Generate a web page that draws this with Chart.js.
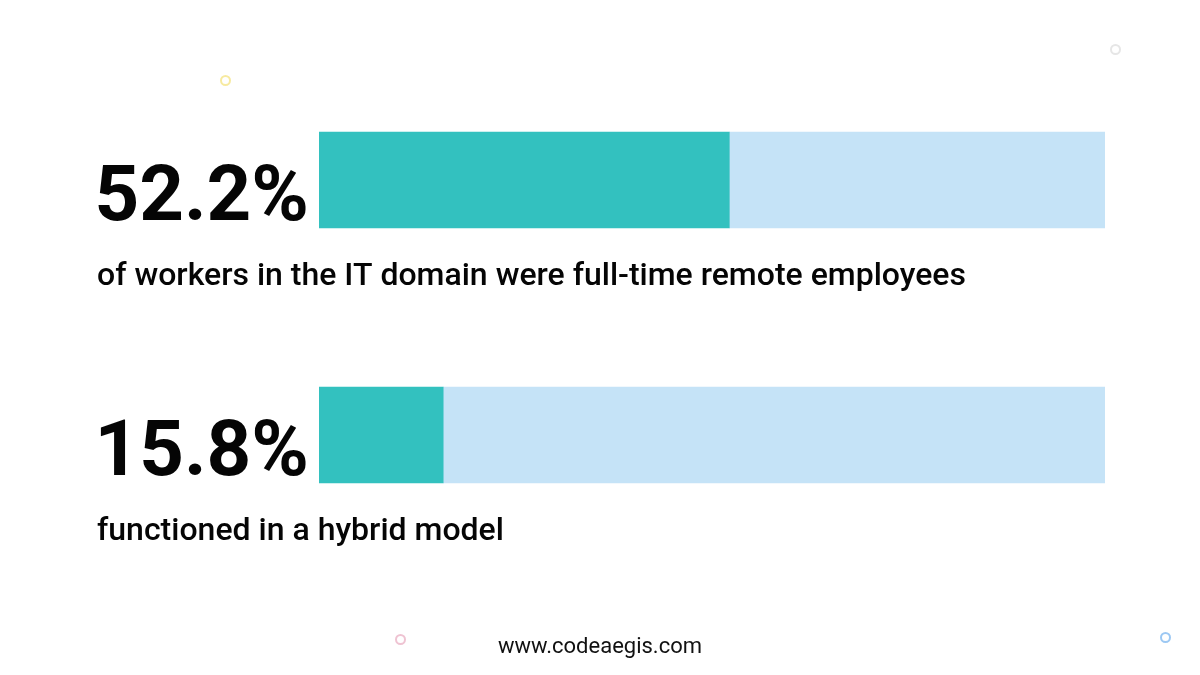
<!DOCTYPE html>
<html>
<head>
<meta charset="utf-8">
<script src="https://cdn.jsdelivr.net/npm/chart.js@4"></script>
<style>
  html, body { margin: 0; padding: 0; background: #fff; }
  #wrap { position: relative; width: 1200px; height: 675px; overflow: hidden; }
  .dot { position: absolute; width: 7px; height: 7px; border-radius: 50%; border: 2.5px solid; }
  #footer { position: absolute; left: 0; width: 1200px; top: 633px; text-align: center;
            font: 400 22px Roboto, sans-serif; color: #111; }
</style>
</head>
<body>
<div id="wrap">
  <canvas id="grafico" width="1200" height="675"></canvas>
  <div class="dot" style="left:220px;top:75px;border-color:#f7eaa0"></div>
  <div class="dot" style="left:1110px;top:44px;border-color:#e6e6e6"></div>
  <div class="dot" style="left:395px;top:634px;border-color:#efc3d2"></div>
  <div class="dot" style="left:1160px;top:632px;border-color:#9cc8f3"></div>
  <div id="footer">www.codeaegis.com</div>
</div>
<script>
// Datos del gráfico
const categorias = ['of workers in the IT domain were full-time remote employees', 'functioned in a hybrid model'];
const porcentajes = [52.2, 15.8];
const resto = porcentajes.map(v => 100 - v);

// Plugin para dibujar el porcentaje grande y la leyenda bajo cada barra
const textos = {
  id: 'textos',
  afterDatasetsDraw(chart) {
    const c = chart.ctx;
    const meta = chart.getDatasetMeta(0);
    c.save();
    c.fillStyle = '#050505';
    meta.data.forEach((bar, i) => {
      const bottom = bar.y + bar.height / 2;
      c.font = '700 78px Roboto';
      c.textAlign = 'right';
      c.textBaseline = 'alphabetic';
      c.fillText(porcentajes[i].toFixed(1) + '%', chart.chartArea.left - 10, bottom - 8);
      c.font = '500 32px Roboto';
      c.textAlign = 'left';
      c.fillText(categorias[i], 97, bottom + 57);
    });
    c.restore();
  }
};

const ctx = document.getElementById('grafico').getContext('2d');
const grafico = new Chart(ctx, {
  type: 'bar',
  data: {
    labels: categorias,
    datasets: [{
      data: porcentajes,
      backgroundColor: '#33c1bf',
      borderWidth: 0,
      barThickness: 96
    }, {
      data: resto,
      backgroundColor: '#c5e3f7',
      borderWidth: 0,
      barThickness: 96
    }]
  },
  options: {
    indexAxis: 'y',
    responsive: false,
    animation: false,
    layout: { padding: { left: 319, right: 95, top: 52.5, bottom: 112.5 } },
    plugins: { legend: { display: false }, tooltip: { enabled: false } },
    scales: {
      x: { stacked: true, min: 0, max: 100, display: false },
      y: { stacked: true, display: false }
    }
  },
  plugins: [textos]
});
</script>
</body>
</html>
